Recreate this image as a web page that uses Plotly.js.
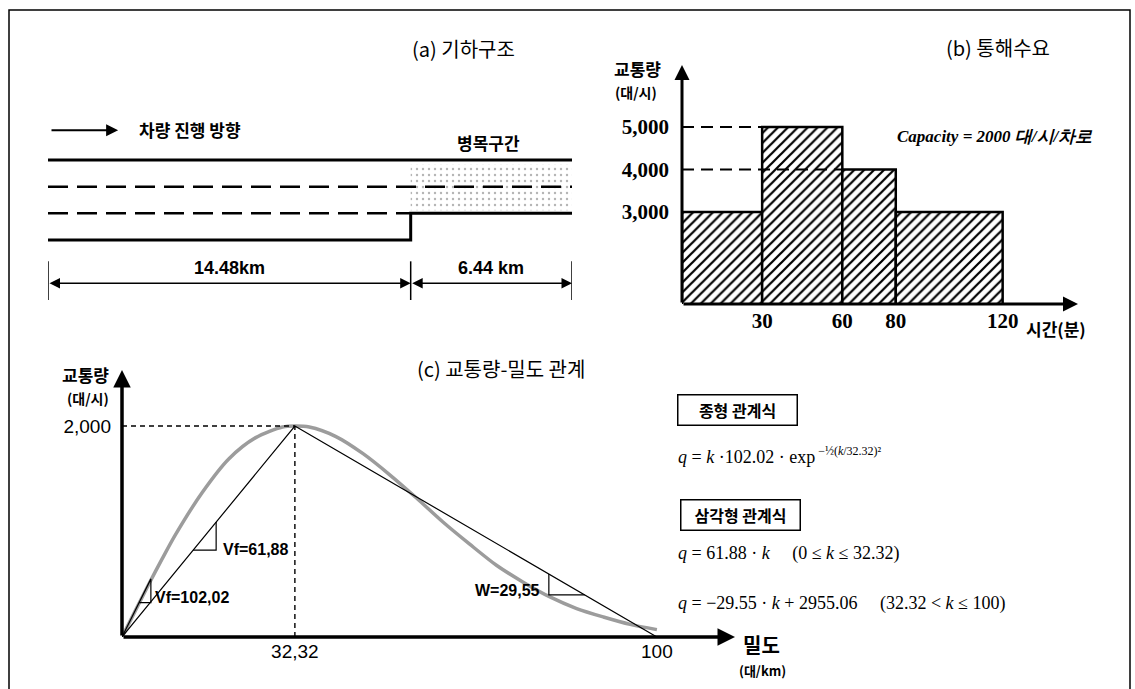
<!DOCTYPE html>
<html><head><meta charset="utf-8">
<script src="https://cdn.plot.ly/plotly-3.0.1.min.js"></script>
<style>html,body{margin:0;padding:0;background:#fff}#chart{width:1135px;height:689px}</style>
</head><body><div id="chart"></div>
<script>
// ---------- (a) 기하구조 ----------
const segmentLabels = ['14.48km', '6.44 km'];
const segmentKm = [14.48, 6.44];
const laneCount = [3, 2];
// ---------- (b) 통해수요 ----------
const binStart = [0, 30, 60, 80];
const binEnd = [30, 60, 80, 120];
const demand = [3000, 5000, 4000, 3000];
const timeTicks = [30, 60, 80, 120];
const capacityPerLane = 2000;
// ---------- (c) 교통량-밀도 관계 ----------
const kBell = [0, 2.5, 5, 7.5, 10, 15, 20, 25, 30, 32.32, 35, 40, 45, 50, 55, 60, 65, 70, 75, 80, 85, 90, 95, 100];
const qBell = [0, 250, 500, 740, 970, 1370, 1690, 1890, 1990, 2000, 1990, 1900, 1740, 1540, 1320, 1090, 880, 680, 520, 380, 270, 190, 120, 70];
const kTri = [0, 32.32, 100];
const qTri = [0, 2000, 0];
const vfBell = 102.02, vfTri = 61.88, wTri = 29.55, qIntercept = 2955.06;
const kCrit = 32.32, qMax = 2000, kJam = 100;

const W = 1135, H = 689;
const px = v => v / W;
const py = v => 1 - v / H;
const comma = v => String(v).replace('.', ',');
const KR = 'Noto Sans CJK KR';
const SERIF = 'Liberation Serif';
const SANS = 'Liberation Sans';

const totalKm = segmentKm.reduce((a, b) => a + b, 0);
const maxLanes = Math.max(...laneCount);
const cum = [0];
segmentKm.forEach(s => cum.push(cum[cum.length - 1] + s));

const traces = [];
// stippled bottleneck
const bi = laneCount.indexOf(Math.min(...laneCount));
const bBottom = maxLanes - laneCount[bi];
traces.push({
  x: [cum[bi], cum[bi + 1], cum[bi + 1], cum[bi], cum[bi]],
  y: [bBottom + 0.12, bBottom + 0.12, maxLanes - 0.15, maxLanes - 0.15, bBottom + 0.12],
  xaxis: 'x', yaxis: 'y', mode: 'lines', fill: 'toself', line: {width: 0},
  fillcolor: 'rgba(0,0,0,0)',
  fillpattern: {shape: '.', bgcolor: '#fff', fgcolor: '#b4b4b4', size: 6, solidity: 0.12},
  hoverinfo: 'skip'
});
// top edge
traces.push({x: [0, totalKm], y: [maxLanes, maxLanes], xaxis: 'x', yaxis: 'y', mode: 'lines',
  line: {color: '#000', width: 3}, hoverinfo: 'skip'});
// bottom edge with step
const bx = [], by = [];
segmentKm.forEach((s, i) => {
  const lvl = maxLanes - laneCount[i];
  bx.push(cum[i], cum[i + 1]); by.push(lvl, lvl);
});
traces.push({x: bx, y: by, xaxis: 'x', yaxis: 'y', mode: 'lines', line: {color: '#000', width: 3}, hoverinfo: 'skip'});
// lane dividers
for (let L = 1; L < maxLanes; L++) {
  let end = 0;
  segmentKm.forEach((s, i) => { if (maxLanes - laneCount[i] < L) end = cum[i + 1]; });
  traces.push({x: [0, end], y: [L, L], xaxis: 'x', yaxis: 'y', mode: 'lines',
    line: {color: '#000', width: 2.5, dash: '20px,9px'}, hoverinfo: 'skip'});
}

// (b) bars
traces.push({
  type: 'bar', xaxis: 'x2', yaxis: 'y2',
  x: binStart.map((s, i) => (s + binEnd[i]) / 2),
  width: binStart.map((s, i) => binEnd[i] - s),
  y: demand,
  marker: {color: '#fff', line: {color: '#000', width: 2.5},
    pattern: {shape: '/', size: 7, solidity: 0.32, fgcolor: '#000', bgcolor: '#fff'}},
  hoverinfo: 'skip'
});
demand.forEach((d, i) => {
  if (i > 0 && d !== demand[0]) {
    traces.push({x: [0, binStart[i]], y: [d, d], xaxis: 'x2', yaxis: 'y2', mode: 'lines',
      line: {color: '#000', width: 2.2, dash: '12px,7px'}, hoverinfo: 'skip'});
  }
});

// (c) curves
traces.push({x: kBell, y: qBell, xaxis: 'x3', yaxis: 'y3', mode: 'lines',
  line: {color: '#9c9c9c', width: 3.5, shape: 'spline', smoothing: 0.8}, hoverinfo: 'skip'});
traces.push({x: kTri, y: qTri, xaxis: 'x3', yaxis: 'y3', mode: 'lines',
  line: {color: '#000', width: 1.2}, hoverinfo: 'skip'});
traces.push({x: [0, kCrit], y: [qMax, qMax], xaxis: 'x3', yaxis: 'y3', mode: 'lines',
  line: {color: '#000', width: 1.4, dash: '5px,4px'}, hoverinfo: 'skip'});
traces.push({x: [kCrit, kCrit], y: [0, qMax], xaxis: 'x3', yaxis: 'y3', mode: 'lines',
  line: {color: '#000', width: 1.4, dash: '5px,4px'}, hoverinfo: 'skip'});
// slope triangles
{
  const a = 3.2, b = 5.4;
  traces.push({x: [0, b, b, a], y: [0, vfBell * b, vfBell * a, vfBell * a], xaxis: 'x3', yaxis: 'y3',
    mode: 'lines', line: {color: '#000', width: 1.2}, hoverinfo: 'skip'});
}
{
  const a = 13.3, b = 17.6;
  traces.push({x: [a, b, b], y: [vfTri * a, vfTri * a, vfTri * b], xaxis: 'x3', yaxis: 'y3',
    mode: 'lines', line: {color: '#000', width: 1.2}, hoverinfo: 'skip'});
}
{
  const a = 79.8, b = 86.5, qR = k => qIntercept - wTri * k;
  traces.push({x: [a, a, b], y: [qR(a), qR(b), qR(b)], xaxis: 'x3', yaxis: 'y3',
    mode: 'lines', line: {color: '#000', width: 1.2}, hoverinfo: 'skip'});
}

const xbMax = 148.2, ybMin = 835, ybMax = 6459;
const xcMax = 114.6, ycMax = 2531;
const hidden = {visible: false, fixedrange: true};
const tickFontB = {family: SERIF, size: 21, color: '#000', weight: 'bold'};
const tickFontC = {family: SANS, size: 19, color: '#000'};

const layout = {
  width: W, height: H, margin: {l: 0, r: 0, t: 0, b: 0},
  paper_bgcolor: '#fff', plot_bgcolor: 'rgba(0,0,0,0)', showlegend: false,
  xaxis: Object.assign({domain: [px(48), px(572)], range: [0, totalKm], anchor: 'y'}, hidden),
  yaxis: Object.assign({domain: [py(310), py(100)], range: [-2.625, 5.25], anchor: 'x'}, hidden),
  xaxis2: {domain: [px(682), px(1078)], range: [0, xbMax], anchor: 'y2', showgrid: false, zeroline: false,
    showline: false, ticks: '', tickvals: timeTicks, ticktext: timeTicks.map(String), tickfont: tickFontB,
    ticklabelstandoff: 2, fixedrange: true},
  yaxis2: {domain: [py(304), py(65)], range: [ybMin, ybMax], anchor: 'x2', showgrid: false, zeroline: false,
    showline: false, ticks: '', tickvals: [...new Set(demand)].sort((a, b) => a - b), tickformat: ',d',
    tickfont: tickFontB, ticklabelstandoff: 12, fixedrange: true},
  xaxis3: {domain: [px(122), px(735)], range: [0, xcMax], anchor: 'y3', showgrid: false, zeroline: false,
    showline: false, ticks: '', tickvals: [kCrit, kJam], ticktext: [comma(kCrit), String(kJam)],
    tickfont: tickFontC, ticklabelstandoff: 1, fixedrange: true},
  yaxis3: {domain: [py(637), py(370)], range: [0, ycMax], anchor: 'x3', showgrid: false, zeroline: false,
    showline: false, ticks: '', tickvals: [qMax], ticktext: ['2,000'],
    tickfont: tickFontC, ticklabelstandoff: 10, fixedrange: true},
  shapes: [
    {type: 'rect', xref: 'paper', yref: 'paper', x0: px(9), x1: px(1130), y0: py(705), y1: py(10),
      line: {color: '#000', width: 1.5}}
  ].concat(cum.map(c => ({type: 'line', xref: 'x', yref: 'y', x0: c, x1: c, y0: -0.8, y1: -2.25,
      line: {color: '#000', width: 1.5}}))),
  annotations: []
};

const A = layout.annotations;
const txt = (text, x, y, font, opts) => A.push(Object.assign({text, x: px(x), y: py(y), xref: 'paper', yref: 'paper',
  xanchor: 'center', yanchor: 'middle', showarrow: false, font: Object.assign({color: '#000'}, font)}, opts || {}));

// (a) texts and arrows
txt('(a) 기하구조', 463, 48, {family: KR, size: 20});
A.push({xref: 'x', yref: 'y', axref: 'x', ayref: 'y', x: 2.8, y: 4.12, ax: 0.08, ay: 4.12, text: '',
  showarrow: true, arrowhead: 2, arrowsize: 1.2, arrowwidth: 2, arrowcolor: '#000', standoff: 0});
txt('차량 진행 방향', 137, 130, {family: KR, size: 17, weight: 'bold'}, {xanchor: 'left'});
txt('병목구간', 488, 142, {family: KR, size: 17, weight: 'bold'});
segmentKm.forEach((s, i) => {
  A.push({xref: 'x', yref: 'y', axref: 'x', ayref: 'y', x: cum[i + 1], y: -1.62, ax: cum[i], ay: -1.62, text: '',
    showarrow: true, arrowhead: 2, arrowside: 'end+start', arrowsize: 1.4, arrowwidth: 1.5, arrowcolor: '#000',
    standoff: 0, startstandoff: 0});
  A.push({xref: 'x', yref: 'y', x: (cum[i] + cum[i + 1]) / 2, y: -1.05, text: segmentLabels[i], showarrow: false,
    xanchor: 'center', yanchor: 'middle', font: {family: SANS, size: 18, weight: 'bold', color: '#000'}});
});

// (b) texts and axes
txt('(b) 통해수요', 998, 47, {family: KR, size: 20});
txt('교통량', 637, 69, {family: KR, size: 17, weight: 'bold'});
txt('(대/시)', 636, 92, {family: KR, size: 14, weight: 'bold'});
txt('Capacity = ' + capacityPerLane + ' 대/시/차로', 995, 137, {family: SERIF, size: 17, weight: 'bold', style: 'italic'});
txt('시간(분)', 1056, 328, {family: KR, size: 17, weight: 'bold'});
A.push({xref: 'x2', yref: 'y2', axref: 'x2', ayref: 'y2', x: 0, y: ybMax, ax: 0, ay: ybMin, text: '',
  showarrow: true, arrowhead: 2, arrowsize: 1, arrowwidth: 3, arrowcolor: '#000', standoff: 0});
A.push({xref: 'x2', yref: 'y2', axref: 'x2', ayref: 'y2', x: xbMax, y: ybMin, ax: 0, ay: ybMin, text: '',
  showarrow: true, arrowhead: 2, arrowsize: 1, arrowwidth: 3, arrowcolor: '#000', standoff: 0});

// (c) texts and axes
txt('(c) 교통량-밀도 관계', 501, 368, {family: KR, size: 20});
txt('교통량', 85, 375, {family: KR, size: 17, weight: 'bold'});
txt('(대/시)', 88, 398, {family: KR, size: 14, weight: 'bold'});
txt('밀도', 761, 644, {family: KR, size: 20, weight: 'bold'});
txt('(대/km)', 762, 670, {family: KR, size: 13, weight: 'bold'});
A.push({xref: 'x3', yref: 'y3', axref: 'x3', ayref: 'y3', x: 0, y: ycMax, ax: 0, ay: 0, text: '',
  showarrow: true, arrowhead: 2, arrowsize: 1, arrowwidth: 3.5, arrowcolor: '#000', standoff: 0});
A.push({xref: 'x3', yref: 'y3', axref: 'x3', ayref: 'y3', x: xcMax, y: 0, ax: 0, ay: 0, text: '',
  showarrow: true, arrowhead: 2, arrowsize: 1, arrowwidth: 3.5, arrowcolor: '#000', standoff: 0});
const lblFont = {family: SANS, size: 16, weight: 'bold', color: '#000'};
A.push({xref: 'x3', yref: 'y3', x: 5.8, y: 379, text: 'Vf=' + comma(vfBell), showarrow: false, xanchor: 'left', yanchor: 'middle', font: lblFont});
A.push({xref: 'x3', yref: 'y3', x: 18.5, y: 834, text: 'Vf=' + comma(vfTri), showarrow: false, xanchor: 'left', yanchor: 'middle', font: lblFont});
A.push({xref: 'x3', yref: 'y3', x: 78.5, y: 445, text: 'W=' + comma(wTri), showarrow: false, xanchor: 'right', yanchor: 'middle', font: lblFont});

// equations
const boxFont = {family: KR, size: 16, weight: 'bold'};
txt('종형 관계식', 737, 410, boxFont, {width: 114, height: 25, bordercolor: '#000', borderwidth: 1.5, borderpad: 2});
txt('삼각형 관계식', 740, 515, boxFont, {width: 114, height: 25, bordercolor: '#000', borderwidth: 1.5, borderpad: 2});
const eqFont = {family: SERIF, size: 18};
const sp = '\u00a0\u00a0\u00a0\u00a0\u00a0';
txt('<i>q</i> = <i>k</i> ·' + vfBell.toFixed(2) + ' · exp<sup><span style="font-size:12px"> −½(<i>k</i>/' + kCrit + ')²</span></sup>', 676, 455, eqFont, {xanchor: 'left'});
txt('<i>q</i> = ' + vfTri + ' · <i>k</i>' + sp + '(0 ≤ <i>k</i> ≤ ' + kCrit + ')', 676, 553, eqFont, {xanchor: 'left'});
txt('<i>q</i> = −' + wTri + ' · <i>k</i> + ' + qIntercept.toFixed(2) + sp + '(' + kCrit + ' &lt; <i>k</i> ≤ ' + kJam + ')', 676, 603, eqFont, {xanchor: 'left'});

Plotly.newPlot('chart', traces, layout, {staticPlot: true, displayModeBar: false});
</script></body></html>
